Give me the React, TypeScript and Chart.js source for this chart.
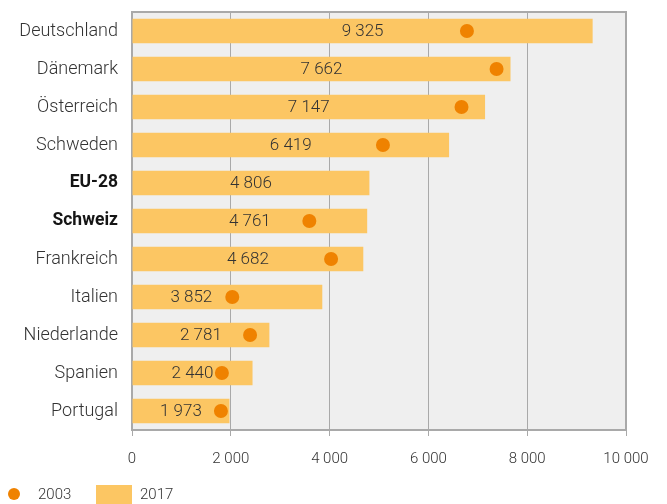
import { useEffect, useRef } from 'react';
import { Chart, registerables } from 'chart.js';

Chart.register(...registerables);

const countries = ['Deutschland', 'Dänemark', 'Österreich', 'Schweden', 'EU-28', 'Schweiz', 'Frankreich', 'Italien', 'Niederlande', 'Spanien', 'Portugal'];
const values2017 = [9325, 7662, 7147, 6419, 4806, 4761, 4682, 3852, 2781, 2440, 1973];
const values2003: (number | null)[] = [6780, 7380, 6670, 5080, null, 3590, 4030, 2030, 2390, 1820, 1800];
const boldCategories = ['EU-28', 'Schweiz'];
const seriesLabels = ['2003', '2017'];
const xMin = 0;
const xMax = 10000;
const xStep = 2000;

const BAR_COLOR = '#fcc663';
const DOT_COLOR = '#ef8200';
const GRID_COLOR = '#a9a9a9';
const TEXT_COLOR = '#333333';
const DOT_RADIUS = 7;

const fmt = (v: number) => Math.round(v).toString().replace(/\B(?=(\d{3})+(?!\d))/g, ' ');

const bgPlugin = {
  id: 'bgPlugin',
  beforeDraw(chart: any) {
    const { ctx, chartArea: a } = chart;
    ctx.save();
    ctx.fillStyle = '#efefef';
    ctx.fillRect(a.left, a.top, a.right - a.left, a.bottom - a.top);
    ctx.strokeStyle = GRID_COLOR;
    ctx.lineWidth = 2;
    ctx.beginPath();
    ctx.moveTo(a.left, a.top);
    ctx.lineTo(a.right + 1, a.top);
    ctx.moveTo(a.right, a.top);
    ctx.lineTo(a.right, a.bottom);
    ctx.stroke();
    ctx.restore();
  },
};

const labelPlugin = {
  id: 'labelPlugin',
  afterDatasetsDraw(chart: any) {
    const { ctx } = chart;
    const barMeta = chart.getDatasetMeta(1);
    const dotMeta = chart.getDatasetMeta(0);
    ctx.save();
    ctx.font = '300 17px Roboto';
    ctx.fillStyle = TEXT_COLOR;
    ctx.textAlign = 'center';
    ctx.textBaseline = 'middle';
    barMeta.data.forEach((el: any, i: number) => {
      const text = fmt(values2017[i]);
      const w = ctx.measureText(text).width;
      let x = (el.x + el.base) / 2;
      const dot = dotMeta.data[i];
      if (values2003[i] != null && dot) {
        const dl = dot.x - DOT_RADIUS;
        const dr = dot.x + DOT_RADIUS;
        if (x + w / 2 > dl && x - w / 2 < dr) {
          x = dl - 13 - w / 2;
        }
      }
      ctx.fillText(text, x, el.y + 1);
    });
    ctx.restore();
  },
};

const legendPlugin = {
  id: 'legendPlugin',
  afterDraw(chart: any) {
    const { ctx } = chart;
    const y = 486;
    ctx.save();
    ctx.fillStyle = DOT_COLOR;
    ctx.beginPath();
    ctx.arc(6, y, 6, 0, Math.PI * 2);
    ctx.fill();
    ctx.fillStyle = BAR_COLOR;
    ctx.fillRect(88, y - 9, 36, 20);
    ctx.font = '300 15px Roboto';
    ctx.fillStyle = TEXT_COLOR;
    ctx.textAlign = 'left';
    ctx.textBaseline = 'middle';
    ctx.fillText(seriesLabels[0], 30, y + 1);
    ctx.fillText(seriesLabels[1], 132, y + 1);
    ctx.restore();
  },
};

export default function App() {
  const ref = useRef<HTMLCanvasElement>(null);

  useEffect(() => {
    document.body.style.overflow = 'hidden';
    const canvas = ref.current;
    if (!canvas) return;
    const chart = new Chart(canvas, {
      type: 'bar',
      data: {
        labels: countries,
        datasets: [
          {
            type: 'line',
            label: seriesLabels[0],
            data: values2003 as any,
            indexAxis: 'y',
            showLine: false,
            pointRadius: DOT_RADIUS,
            pointHoverRadius: DOT_RADIUS,
            pointBackgroundColor: DOT_COLOR,
            pointBorderColor: DOT_COLOR,
            pointBorderWidth: 0,
            backgroundColor: DOT_COLOR,
            borderColor: DOT_COLOR,
            order: 0,
          } as any,
          {
            type: 'bar',
            label: seriesLabels[1],
            data: values2017,
            indexAxis: 'y',
            backgroundColor: BAR_COLOR,
            borderWidth: 0,
            categoryPercentage: 1,
            barPercentage: 0.65,
            order: 1,
          } as any,
        ],
      },
      options: {
        indexAxis: 'y',
        responsive: true,
        maintainAspectRatio: false,
        animation: false,
        layout: { autoPadding: false, padding: { top: 4, right: 33, bottom: 22, left: 0 } },
        plugins: {
          legend: { display: false },
          tooltip: { enabled: false },
        },
        scales: {
          x: {
            type: 'linear',
            min: xMin,
            max: xMax,
            afterFit: (scale: any) => {
              scale.paddingLeft = 0;
              scale.paddingRight = 0;
            },
            ticks: {
              stepSize: xStep,
              padding: 14,
              color: TEXT_COLOR,
              font: { family: 'Roboto', size: 15, weight: '300' as any, lineHeight: 1.2 },
              callback: (v: any) => fmt(Number(v)),
              maxRotation: 0,
              autoSkip: false,
            },
            grid: {
              color: GRID_COLOR,
              tickColor: GRID_COLOR,
              tickLength: 6,
              drawTicks: true,
              lineWidth: 1,
            },
            border: { display: true, color: GRID_COLOR, width: 2 },
          },
          y: {
            type: 'category',
            afterFit: (scale: any) => {
              scale.width = 124;
              scale.paddingTop = 0;
              scale.paddingBottom = 0;
            },
            ticks: {
              padding: 14,
              color: (c: any) => (boldCategories.includes(countries[c.index]) ? '#151515' : TEXT_COLOR),
              font: (c: any) =>
                boldCategories.includes(countries[c.index])
                  ? { family: 'Roboto', size: 17.5, weight: 'bold' as any }
                  : { family: 'Roboto', size: 18, weight: '300' as any },
            },
            grid: { display: false, drawTicks: false },
            border: { display: true, color: GRID_COLOR, width: 2 },
          },
        },
      },
      plugins: [bgPlugin, labelPlugin, legendPlugin],
    });
    return () => chart.destroy();
  }, []);

  return (
    <div style={{ position: 'relative', width: 651, height: 496 }}>
      <canvas ref={ref} style={{ display: 'block' }} />
    </div>
  );
}
